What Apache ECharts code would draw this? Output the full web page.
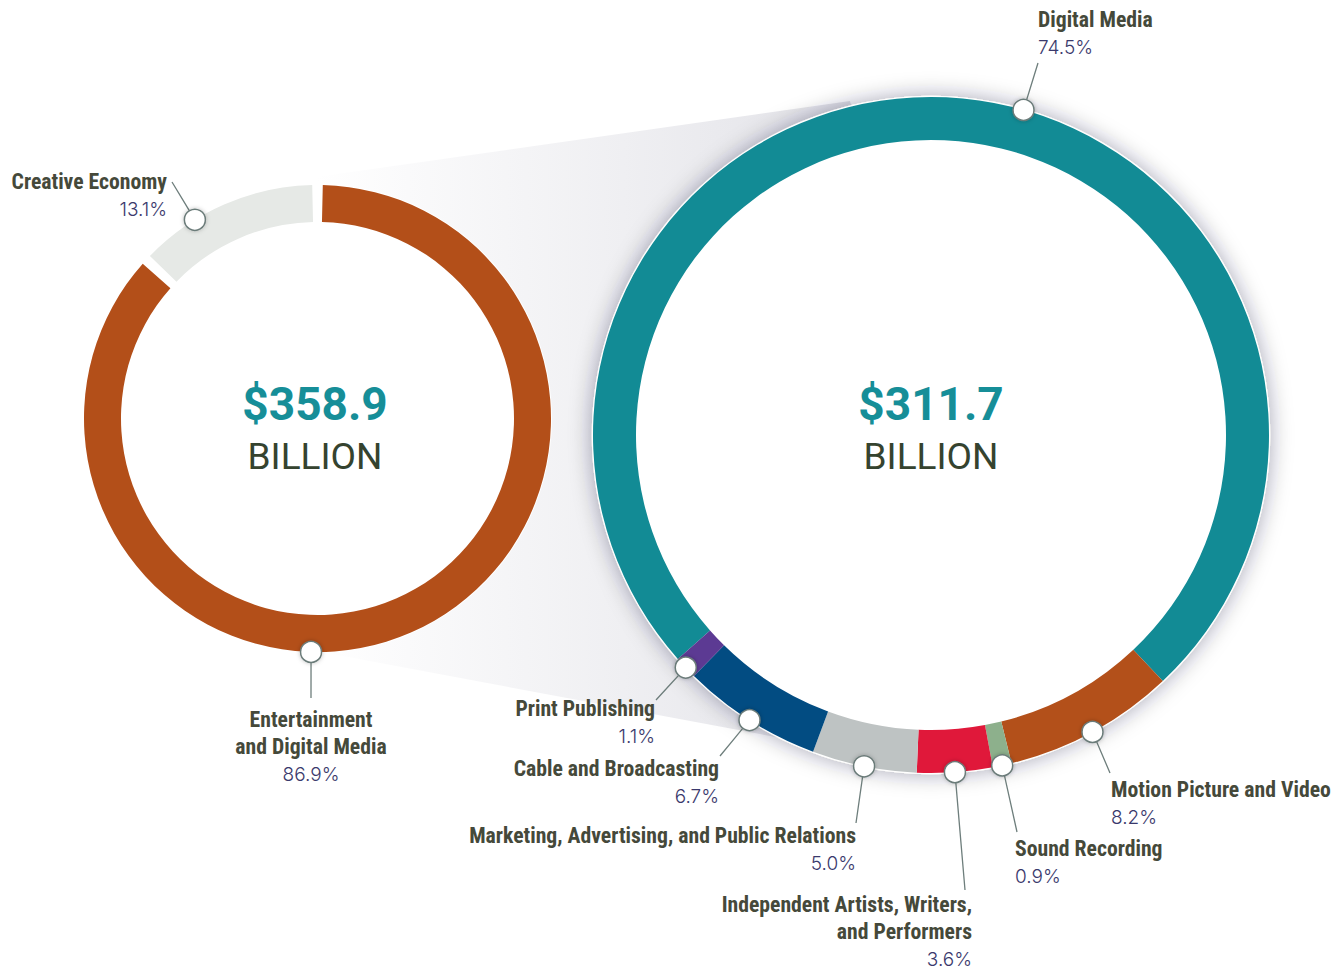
<!DOCTYPE html>
<html><head><meta charset="utf-8">
<script src="https://cdn.jsdelivr.net/npm/echarts@6/dist/echarts.min.js"></script>
<style>html,body{margin:0;padding:0;background:#fff}#chart{width:1337px;height:971px}</style>
</head><body><div id="chart"></div>
<script>
// ---- data ----
const overviewCategories = ['Entertainment\nand Digital Media', 'Creative Economy'];
const overviewValues = [86.9, 13.1];
const overviewTotal = '$358.9';
const segmentCategories = ['Digital Media', 'Motion Picture and Video', 'Sound Recording',
  'Independent Artists, Writers,\nand Performers', 'Marketing, Advertising, and Public Relations',
  'Cable and Broadcasting', 'Print Publishing'];
const segmentValues = [74.5, 8.2, 0.9, 3.6, 5.0, 6.7, 1.1];
const segmentTotal = '$311.7';
const totalUnit = 'BILLION';

// ---- styles / layout ----
const overviewColors = ['#B34F19', '#E6E9E6'];
const segmentColors = ['#128B95', '#B3501A', '#8DB08C', '#E0183A', '#BEC3C3', '#024C82', '#5C3A93'];
const G = {
  left: { cx: 317.5, cy: 418.5, r0: 196.5, r1: 233.5, start: 90, pad: 2.6 },
  right: { cx: 931, cy: 435, r0: 295, r1: 338, start: 221.5, pad: 0 }
};
const anchorShift = { 'Creative Economy': -2.25, 'Entertainment\nand Digital Media': 6.99, 'Digital Media': 3.69 };
const labelPos = {
  'Creative Economy': { x: 167, y: 168, align: 'right', end: [172, 182] },
  'Entertainment\nand Digital Media': { x: 311, y: 706, align: 'center', end: [311, 698] },
  'Digital Media': { x: 1038, y: 6, align: 'left', end: [1038, 63] },
  'Print Publishing': { x: 655, y: 695, align: 'right', end: [656, 700] },
  'Cable and Broadcasting': { x: 719, y: 755, align: 'right', end: [720, 756] },
  'Marketing, Advertising, and Public Relations': { x: 856, y: 822, align: 'right', end: [856, 823] },
  'Independent Artists, Writers,\nand Performers': { x: 972, y: 891, align: 'right', end: [965, 890] },
  'Sound Recording': { x: 1015, y: 835, align: 'left', end: [1017, 832] },
  'Motion Picture and Video': { x: 1111, y: 776, align: 'left', end: [1110, 773] }
};
const nameFont = "'Liberation Sans Narrow','Roboto Condensed','DejaVu Sans Condensed',Roboto,sans-serif";
const pctFont = "Inter,Roboto,sans-serif";

function markerPct(names, values, i) {
  const total = values.reduce((a, b) => a + b, 0);
  let cum = 0;
  for (let k = 0; k < i; k++) cum += values[k];
  return (cum + values[i] / 2) / total * 100 + (anchorShift[names[i]] || 0);
}
function markerXY(g, names, values, i) {
  const rm = g.r1;
  const deg = (90 - g.start) + markerPct(names, values, i) * 3.6;
  const a = deg * Math.PI / 180;
  return [g.cx + rm * Math.sin(a), g.cy - rm * Math.cos(a)];
}
function makeLayout(g, names, values) {
  return function (params) {
    const name = names[params.dataIndex];
    const lp = labelPos[name];
    const m = markerXY(g, names, values, params.dataIndex);
    return {
      x: lp.x, y: lp.y, align: lp.align, verticalAlign: 'top',
      labelLinePoints: [m, [(m[0] + lp.end[0]) / 2, (m[1] + lp.end[1]) / 2], lp.end]
    };
  };
}
const rich = {
  n: { fontFamily: nameFont, fontWeight: 'bold', fontSize: 21.7, color: '#45493A', lineHeight: 27 },
  p: { fontFamily: pctFont, fontWeight: 300, fontSize: 19, color: '#3A396C', lineHeight: 28 }
};
function fmt(p) { return '{n|' + p.name + '}\n{p|' + p.value.toFixed(1) + '%}'; }

function pieSeries(g, names, values, colors) {
  return {
    type: 'pie', z: 3, silent: true,
    center: [g.cx, g.cy], radius: [g.r0, g.r1], startAngle: g.start, clockwise: true,
    padAngle: g.pad, avoidLabelOverlap: false,
    data: names.map((n, i) => ({ name: n, value: values[i], itemStyle: { color: colors[i] } })),
    label: { show: true, position: 'outside', formatter: fmt, rich: rich },
    labelLine: { show: true, length: 10, length2: 10, lineStyle: { color: '#6E7E7C', width: 1.3 } },
    labelLayout: makeLayout(g, names, values),
    emphasis: { disabled: true }
  };
}
function markerSeries(idx, names, values) {
  return {
    type: 'scatter', coordinateSystem: 'polar', polarIndex: idx, z: 10, silent: true,
    symbol: 'circle', symbolSize: 21,
    itemStyle: { color: '#FFFFFF', borderColor: '#6B7B79', borderWidth: 1.5, shadowBlur: 4, shadowColor: 'rgba(0,0,0,0.25)', opacity: 1 },
    data: names.map((n, i) => [1, markerPct(names, values, i)])
  };
}
function hiddenAxes(idx, g) {
  return {
    angle: { polarIndex: idx, type: 'value', min: 0, max: 100, startAngle: g.start, clockwise: true, show: false },
    radius: { polarIndex: idx, type: 'value', min: 0, max: 1, show: false }
  };
}
const axL = hiddenAxes(0, G.left), axR = hiddenAxes(1, G.right);
const textBase = { align: 'center', verticalAlign: 'middle', textAlign: 'center', textVerticalAlign: 'middle', fontFamily: 'Roboto,sans-serif' };

const chart = echarts.init(document.getElementById('chart'), null, { renderer: 'svg' });
chart.setOption({
  backgroundColor: '#FFFFFF',
  animation: false,
  polar: [
    { center: [G.left.cx, G.left.cy], radius: G.left.r1 },
    { center: [G.right.cx, G.right.cy], radius: G.right.r1 }
  ],
  angleAxis: [axL.angle, axR.angle],
  radiusAxis: [axL.radius, axR.radius],
  graphic: [
    { type: 'polygon', z: 0, silent: true,
      shape: { points: [[316, 177], [850, 101], [931, 435], [840, 749], [316, 651]] },
      style: { fill: { type: 'linear', x: 0, y: 0, x2: 1, y2: 0, colorStops: [
        { offset: 0, color: '#FFFFFF' }, { offset: 0.15, color: '#FAFAFB' },
        { offset: 0.5, color: '#EFEFF2' }, { offset: 0.8, color: '#E5E5EA' }, { offset: 1, color: '#DADAE0' }] } } },
    { type: 'circle', z: 1, silent: true, shape: { cx: G.left.cx, cy: G.left.cy, r: G.left.r1 + 1 }, style: { fill: '#FFFFFF' } },
    { type: 'circle', z: 1, silent: true, shape: { cx: G.right.cx, cy: G.right.cy, r: G.right.r1 + 1.2 },
      style: { fill: '#FFFFFF', shadowBlur: 22, shadowColor: 'rgba(30,30,50,0.35)' } },
    { type: 'text', z: 20, silent: true, x: 315, y: 404,
      style: Object.assign({ text: overviewTotal, fontWeight: 'bold', fontSize: 46, fill: '#168E98' }, textBase) },
    { type: 'text', z: 20, silent: true, x: 315, y: 456,
      style: Object.assign({ text: totalUnit, fontWeight: 'normal', fontSize: 37, fill: '#35432F' }, textBase) },
    { type: 'text', z: 20, silent: true, x: 931, y: 404,
      style: Object.assign({ text: segmentTotal, fontWeight: 'bold', fontSize: 46, fill: '#168E98' }, textBase) },
    { type: 'text', z: 20, silent: true, x: 931, y: 456,
      style: Object.assign({ text: totalUnit, fontWeight: 'normal', fontSize: 37, fill: '#35432F' }, textBase) }
  ],
  series: [
    pieSeries(G.left, overviewCategories, overviewValues, overviewColors),
    pieSeries(G.right, segmentCategories, segmentValues, segmentColors),
    markerSeries(0, overviewCategories, overviewValues),
    markerSeries(1, segmentCategories, segmentValues)
  ]
});
</script></body></html>
